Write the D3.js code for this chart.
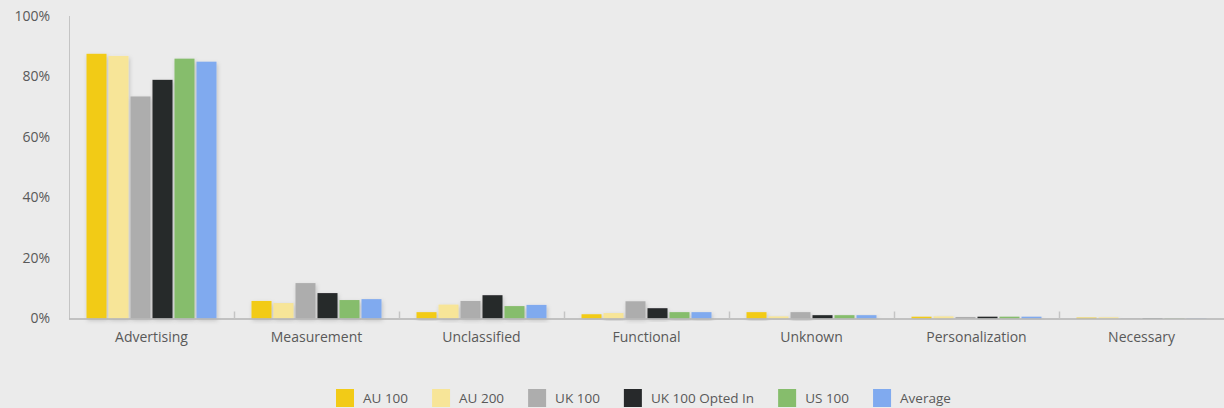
<!DOCTYPE html>
<html>
<head>
<meta charset="utf-8">
<script src="https://cdn.jsdelivr.net/npm/d3@7"></script>
<style>
  html, body { margin: 0; padding: 0; background: #ebebeb; }
  svg { display: block; font-family: "Open Sans", "Noto Sans", sans-serif; }
</style>
</head>
<body>
<svg id="chart" width="1224" height="408"></svg>
<script>
// Cookie purpose categories and share of cookies per dataset (%)
const categories = ["Advertising", "Measurement", "Unclassified", "Functional", "Unknown", "Personalization", "Necessary"];
const seriesNames = ["AU 100", "AU 200", "UK 100", "UK 100 Opted In", "US 100", "Average"];
const seriesColors = ["#f2cb17", "#f7e598", "#adadad", "#27292b", "#86bd6c", "#80aaef"];

const au100     = [87.5, 5.8, 2.1, 1.4, 2.1, 0.6, 0.3];
const au200     = [86.8, 5.1, 4.6, 1.8, 0.7, 0.7, 0.4];
const uk100     = [73.4, 11.7, 5.8, 5.7, 2.1, 0.5, 0.1];
const uk100Opt  = [78.9, 8.4, 7.7, 3.4, 1.1, 0.6, 0.1];
const us100     = [85.9, 6.1, 4.1, 2.1, 1.1, 0.6, 0.1];
const average   = [84.9, 6.4, 4.5, 2.1, 1.1, 0.6, 0.1];

const yTicks = [0, 20, 40, 60, 80, 100];

const seriesValues = [au100, au200, uk100, uk100Opt, us100, average];

const svg = d3.select("#chart");
const margin = { left: 69, right: 0, top: 16, bottom: 89 };
const W = 1224, H = 408;

const x0 = d3.scaleBand().domain(categories).range([margin.left, W - margin.right]).paddingInner(0).paddingOuter(0);
const x1 = d3.scaleBand().domain(seriesNames).range([0, 130]).paddingInner(0.09);
const y = d3.scaleLinear().domain([0, 100]).range([H - margin.bottom - 0.5, margin.top]);

const defs = svg.append("defs");
const f = defs.append("filter").attr("id", "shadow").attr("x", "-30%").attr("y", "-30%").attr("width", "160%").attr("height", "160%");
f.append("feDropShadow").attr("dx", 1).attr("dy", 2).attr("stdDeviation", 2).attr("flood-color", "#000").attr("flood-opacity", 0.18);
const fg = defs.append("filter").attr("id", "gshadow").attr("x", "-5%").attr("y", "-200%").attr("width", "110%").attr("height", "500%");
fg.append("feDropShadow").attr("dx", 0).attr("dy", 1).attr("stdDeviation", 0.8).attr("flood-color", "#000").attr("flood-opacity", 0.12);

// Gridlines
const grid = svg.append("g");
grid.selectAll("line").data(yTicks.filter(d => d > 0)).join("line")
  .attr("x1", margin.left).attr("x2", W)
  .attr("y1", d => Math.round(y(d)) + 0.5).attr("y2", d => Math.round(y(d)) + 0.5)
  .attr("stroke", "#bdbdbd").attr("stroke-width", 1.3)
  .attr("filter", "url(#gshadow)");

// Y axis line
svg.append("line")
  .attr("x1", margin.left + 0.5).attr("x2", margin.left + 0.5)
  .attr("y1", y(100)).attr("y2", y(0))
  .attr("stroke", "#c4c4c4").attr("stroke-width", 1);

// Y labels
const yAxis = d3.axisLeft(y).tickValues(yTicks).tickFormat(d => d + "%").tickSize(0).tickPadding(19);
const ya = svg.append("g").attr("transform", `translate(${margin.left},0)`).call(yAxis);
ya.select(".domain").remove();
ya.selectAll("text").attr("fill", "#595959").attr("font-size", 14).attr("font-family", "\"Open Sans\", sans-serif");

// Bars
const groups = svg.append("g").selectAll("g").data(categories).join("g")
  .attr("transform", d => `translate(${x0(d) + (x0.bandwidth() - 130) / 2},0)`);
groups.selectAll("rect")
  .data((c, i) => seriesNames.map((s, j) => ({ s, j, v: seriesValues[j][i] })))
  .join("rect")
  .attr("x", d => x1(d.s))
  .attr("width", x1.bandwidth())
  .attr("y", d => y(d.v))
  .attr("height", d => y(0) - y(d.v))
  .attr("fill", d => seriesColors[d.j])
  .attr("filter", "url(#shadow)");

// Baseline and category ticks
svg.append("line")
  .attr("x1", margin.left).attr("x2", W)
  .attr("y1", y(0) + 0.5).attr("y2", y(0) + 0.5)
  .attr("stroke", "#b3b3b3").attr("stroke-width", 1.3);
svg.append("g").selectAll("line").data(categories.slice(1)).join("line")
  .attr("x1", d => x0(d) + 0.5).attr("x2", d => x0(d) + 0.5)
  .attr("y1", y(0) - 7).attr("y2", y(0))
  .attr("stroke", "#c4c4c4").attr("stroke-width", 1.5);

// Category labels
const xAxis = d3.axisBottom(x0).tickSize(0).tickPadding(14);
const xa = svg.append("g").attr("transform", `translate(0,${y(0)})`).call(xAxis);
xa.select(".domain").remove();
xa.selectAll("text").attr("fill", "#595959").attr("font-size", 14).attr("font-family", "\"Open Sans\", sans-serif");

// Legend
const legend = svg.append("g");
let lx = 336;
seriesNames.forEach((name, i) => {
  const g = legend.append("g").attr("transform", `translate(${lx},389)`);
  g.append("rect").attr("width", 18).attr("height", 18).attr("fill", seriesColors[i]);
  const t = g.append("text").attr("x", 27).attr("y", 14).text(name)
    .attr("fill", "#595959").attr("font-size", 13.5).attr("font-family", "\"Open Sans\", sans-serif");
  lx += 27 + t.node().getComputedTextLength() + 24;
});
</script>
</body>
</html>
